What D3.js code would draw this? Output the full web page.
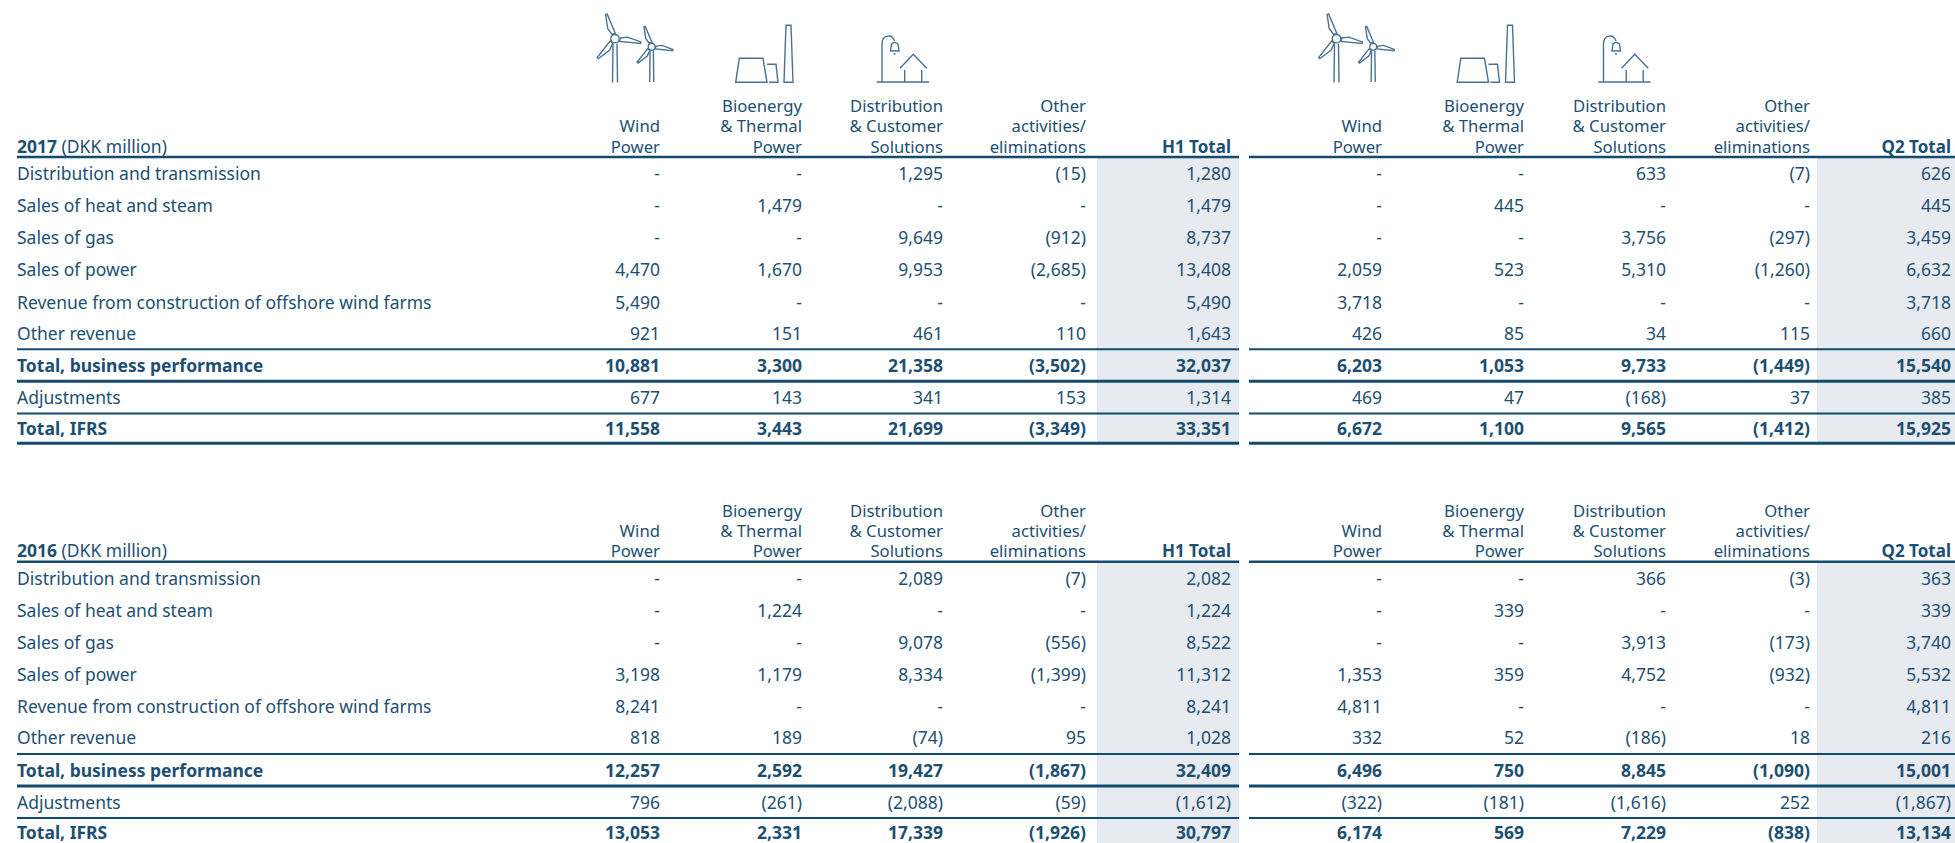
<!DOCTYPE html>
<html><head><meta charset="utf-8">
<script src="https://cdnjs.cloudflare.com/ajax/libs/d3/7.8.5/d3.min.js"></script>
<style>html,body{margin:0;padding:0;background:#fff;overflow:hidden}svg{display:block}
text{font-family:"Noto Sans",sans-serif;fill:#1d4f73;font-size:17.5px}</style></head><body>
<svg id="c" width="1955" height="843"></svg>
<script>
const rowLabels=["Distribution and transmission","Sales of heat and steam","Sales of gas","Sales of power","Revenue from construction of offshore wind farms","Other revenue","Total, business performance","Adjustments","Total, IFRS"];
const boldRows=["Total, business performance","Total, IFRS"];
const colHeaders=[["Wind","Power"],["Bioenergy","& Thermal","Power"],["Distribution","& Customer","Solutions"],["Other","activities/","eliminations"]];
const h1_2017=[["-","-","1,295","(15)","1,280"],["-","1,479","-","-","1,479"],["-","-","9,649","(912)","8,737"],["4,470","1,670","9,953","(2,685)","13,408"],["5,490","-","-","-","5,490"],["921","151","461","110","1,643"],["10,881","3,300","21,358","(3,502)","32,037"],["677","143","341","153","1,314"],["11,558","3,443","21,699","(3,349)","33,351"]];
const q2_2017=[["-","-","633","(7)","626"],["-","445","-","-","445"],["-","-","3,756","(297)","3,459"],["2,059","523","5,310","(1,260)","6,632"],["3,718","-","-","-","3,718"],["426","85","34","115","660"],["6,203","1,053","9,733","(1,449)","15,540"],["469","47","(168)","37","385"],["6,672","1,100","9,565","(1,412)","15,925"]];
const h1_2016=[["-","-","2,089","(7)","2,082"],["-","1,224","-","-","1,224"],["-","-","9,078","(556)","8,522"],["3,198","1,179","8,334","(1,399)","11,312"],["8,241","-","-","-","8,241"],["818","189","(74)","95","1,028"],["12,257","2,592","19,427","(1,867)","32,409"],["796","(261)","(2,088)","(59)","(1,612)"],["13,053","2,331","17,339","(1,926)","30,797"]];
const q2_2016=[["-","-","366","(3)","363"],["-","339","-","-","339"],["-","-","3,913","(173)","3,740"],["1,353","359","4,752","(932)","5,532"],["4,811","-","-","-","4,811"],["332","52","(186)","18","216"],["6,496","750","8,845","(1,090)","15,001"],["(322)","(181)","(1,616)","252","(1,867)"],["6,174","569","7,229","(838)","13,134"]];

const ink="#134a70", shade="#e7ebef";
const svg=d3.select("#c");
const colKeys=[0,1,2,3,4];
const xH1=d3.scaleOrdinal(colKeys,[660,802,943,1086,1231]);
const xQ2=d3.scaleOrdinal(colKeys,[1382,1524,1666,1810,1951]);
const rowY=d3.scaleOrdinal(d3.range(9),[23.2,55.3,87.3,119.2,151.5,182.8,215.3,247.3,277.5]);

function panel(year,top,h1,q2,withIcons,shadeH){
  const g=svg.append("g").attr("transform",`translate(0,${top})`);
  const ruleSpec=[[0,2.5],[192.3,2],[224.2,3],[256.4,2],[286.3,3]];
  [[1097,1239,1,1239,"H1 Total",h1,xH1],[1817,1955,1249,1955,"Q2 Total",q2,xQ2]].forEach(([sx0,sx1,rx0,rx1,tot,data,x],pi)=>{
    g.append("rect").attr("x",sx0).attr("width",sx1-sx0).attr("y",0).attr("height",shadeH).attr("fill",shade);
    const left=pi===0?17:rx0;
    g.selectAll(null).data(ruleSpec).join("line").attr("x1",left).attr("x2",rx1)
      .attr("y1",d=>d[0]).attr("y2",d=>d[0]).attr("stroke",ink).attr("stroke-width",d=>d[1]);
    colHeaders.forEach((lines,c)=>{
      lines.slice().reverse().forEach((t,i)=>g.append("text").attr("x",x(c)).attr("y",-4.5-i*20.3).attr("text-anchor","end").style("font-size","16.7px").text(t));
    });
    g.append("text").attr("x",x(4)).attr("y",-4.5).attr("text-anchor","end").style("font-weight",700).style("font-size","17px").text(tot);
    data.forEach((row,r)=>{
      g.selectAll(null).data(row).join("text").attr("x",(d,c)=>x(c)).attr("y",rowY(r))
       .attr("text-anchor","end").style("font-weight",boldRows.includes(rowLabels[r])?700:400).text(d=>d);
    });
  });
  const h=g.append("text").attr("x",17).attr("y",-4.5);
  h.append("tspan").style("font-weight",700).text(year);
  h.append("tspan").text(" (DKK million)");
  rowLabels.forEach((l,r)=>g.append("text").attr("x",17).attr("y",rowY(r)).style("font-weight",boldRows.includes(l)?700:400).text(l));
  if(withIcons){ [0,721.5].forEach(dx=>icons(g.append("g").attr("transform",`translate(${dx},${-top})`).attr("fill","none").attr("stroke","#4a7292").attr("stroke-width",1.4))); }
}
function turbine(g,cx,cy,s,base){
  g.append("circle").attr("cx",cx).attr("cy",cy).attr("r",4.2*s);
  [-109,9.4,132].forEach(a=>{
    g.append("path").attr("transform",`translate(${cx},${cy}) rotate(${a})`)
     .attr("d",`M${5*s},${-1.5*s}L${12*s},${-3.6*s}L${26*s},${-1*s}L${26*s},${0.6*s}L${5*s},${2*s}Z`);
  });
  g.append("path").attr("d",`M${cx-2*s},${cy+5*s}L${cx-2.5*s},${base}M${cx+2*s},${cy+5*s}L${cx+2.5*s},${base}`);
}
function icons(g){
  turbine(g,615,38.7,1,82.5); turbine(g,651.7,46.7,0.82,82);
  g.append("path").attr("d","M735.7,82.3L739.3,58.3H763L767,82.3ZM767,64.3H776L778,82.3H769");
  g.append("path").attr("d","M784,82.3L786,25.3H791L793,82.3Z");
  g.append("path").attr("d","M876.7,82H929M882,82V44C882,35 892,33 894.5,41");
  g.append("path").attr("d","M890.5,51H899L898,44Q894.5,41 891.5,44ZM893.5,54h2");
  g.append("path").attr("d","M900,68.3L913.3,54.3L926.7,68.3M904.7,70V82M921.7,70V82");
}
panel("2017",157,h1_2017,q2_2017,true,286);
panel("2016",561.7,h1_2016,q2_2016,false,290);
</script></body></html>
